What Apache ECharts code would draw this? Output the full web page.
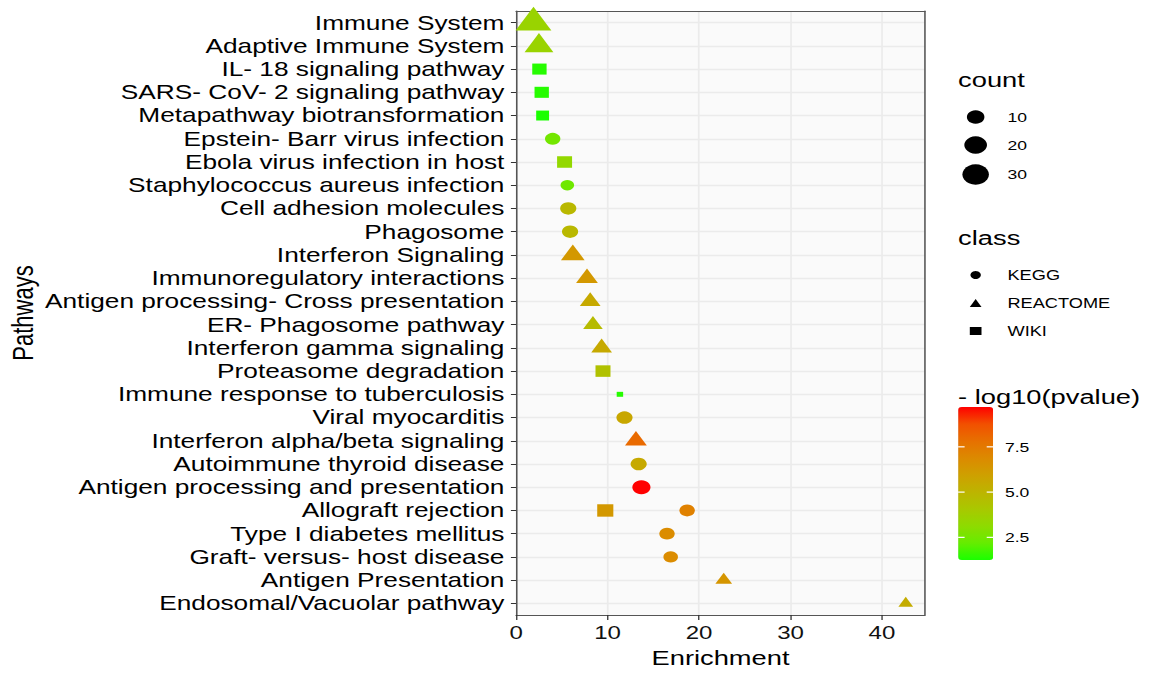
<!DOCTYPE html>
<html>
<head>
<meta charset="utf-8">
<script src="https://cdn.jsdelivr.net/npm/echarts@6/dist/echarts.min.js"></script>
<style>
  html, body { margin: 0; padding: 0; background: #fff; overflow: hidden; }
  /* the source figure is stretched ~1.3x sideways, so draw narrow and widen it */
  #chart { width: 885px; height: 673px; transform: scaleX(1.3); transform-origin: 0 0; }
</style>
</head>
<body>
<div id="chart"></div>
<script>
const pathways = [
  'Immune System', 'Adaptive Immune System', 'IL- 18 signaling pathway',
  'SARS- CoV- 2 signaling pathway', 'Metapathway biotransformation',
  'Epstein- Barr virus infection', 'Ebola virus infection in host',
  'Staphylococcus aureus infection', 'Cell adhesion molecules', 'Phagosome',
  'Interferon Signaling', 'Immunoregulatory interactions',
  'Antigen processing- Cross presentation', 'ER- Phagosome pathway',
  'Interferon gamma signaling', 'Proteasome degradation',
  'Immune response to tuberculosis', 'Viral myocarditis',
  'Interferon alpha/beta signaling', 'Autoimmune thyroid disease',
  'Antigen processing and presentation', 'Allograft rejection',
  'Type I diabetes mellitus', 'Graft- versus- host disease',
  'Antigen Presentation', 'Endosomal/Vacuolar pathway'
];

// one entry per point (Allograft rejection has two)
const pointPathway = [
  'Immune System', 'Adaptive Immune System', 'IL- 18 signaling pathway',
  'SARS- CoV- 2 signaling pathway', 'Metapathway biotransformation',
  'Epstein- Barr virus infection', 'Ebola virus infection in host',
  'Staphylococcus aureus infection', 'Cell adhesion molecules', 'Phagosome',
  'Interferon Signaling', 'Immunoregulatory interactions',
  'Antigen processing- Cross presentation', 'ER- Phagosome pathway',
  'Interferon gamma signaling', 'Proteasome degradation',
  'Immune response to tuberculosis', 'Viral myocarditis',
  'Interferon alpha/beta signaling', 'Autoimmune thyroid disease',
  'Antigen processing and presentation', 'Allograft rejection', 'Allograft rejection',
  'Type I diabetes mellitus', 'Graft- versus- host disease',
  'Antigen Presentation', 'Endosomal/Vacuolar pathway'
];
const enrichment = [1.9, 2.5, 2.55, 2.8, 2.9, 4.0, 5.3, 5.6, 5.7, 5.9, 6.2, 7.75, 8.1, 8.4,
  9.35, 9.5, 11.35, 11.85, 13.1, 13.4, 13.7, 9.75, 18.7, 16.5, 16.9, 22.7, 42.6];
const count = [30, 17, 8, 8, 6, 7, 9, 5, 8, 8, 10, 8, 7, 6, 7, 9, 2, 8, 8, 8, 11, 11, 7, 7, 6, 4, 3];
const logP = [3.5, 3.5, 1.4, 1.4, 1.25, 2.5, 3.3, 2.4, 4.8, 4.8, 6.3, 6.3, 5.5, 4.7, 5.5, 4.4,
  1.4, 5.6, 8.0, 5.5, 9.7, 6.3, 7.2, 6.8, 6.8, 6.4, 5.4];
const pointClass = ['REACTOME', 'REACTOME', 'WIKI', 'WIKI', 'WIKI', 'KEGG', 'WIKI', 'KEGG', 'KEGG',
  'KEGG', 'REACTOME', 'REACTOME', 'REACTOME', 'REACTOME', 'REACTOME', 'WIKI', 'WIKI', 'KEGG',
  'REACTOME', 'KEGG', 'KEGG', 'WIKI', 'KEGG', 'KEGG', 'KEGG', 'REACTOME', 'REACTOME'];

const classes = ['KEGG', 'REACTOME', 'WIKI'];
const xTicks = [0, 10, 20, 30, 40];
const countBreaks = [10, 20, 30];
const colorBreaks = [7.5, 5.0, 2.5];

const FONT = 'Liberation Sans';
const classSymbol = { KEGG: 'circle', REACTOME: 'triangle', WIKI: 'rect' };
const palette = ['#1aff00', '#66ec00', '#8edb00', '#a9c800', '#bdb400', '#cea000',
  '#dc8a00', '#e77000', '#f25000', '#ff0000'];
const pMin = 1.25, pMax = 9.7;

// area-like size scale: diameter grows with sqrt(count)
const sizeOf = (c) => 5.6 + 2.8 * Math.sqrt(Math.max(c - 2, 0));

function symbolFor(cls, c) {
  const d = sizeOf(c);
  if (cls === 'REACTOME') return { symbolSize: [1.347 * d, 1.167 * d], symbolOffset: [0, -0.195 * d] };
  if (cls === 'WIKI') return { symbolSize: [0.886 * d, 0.886 * d] };
  return { symbolSize: [d, d] };
}

const series = classes.map((cls) => ({
  type: 'scatter',
  name: cls,
  symbol: classSymbol[cls],
  itemStyle: { color: '#000', opacity: 1 },
  emphasis: { disabled: true },
  data: pointPathway
    .map((p, i) => i)
    .filter((i) => pointClass[i] === cls)
    .map((i) => Object.assign(
      { value: [enrichment[i], pointPathway[i], count[i], logP[i]] },
      symbolFor(cls, count[i])
    )),
}));

// legends drawn beside the panel
const LX = 737;
const graphics = [];
const title = (text, y) => ({
  type: 'text', x: LX, y: y, z: 100,
  style: { text: text, fontSize: 21, fontFamily: FONT, fill: '#000', verticalAlign: 'middle' },
});
const small = (text, x, y) => ({
  type: 'text', x: x, y: y, z: 100,
  style: { text: text, fontSize: 13.5, fontFamily: FONT, fill: '#000', verticalAlign: 'middle' },
});
graphics.push(title('count', 80));
const countRowY = [117, 145, 174.5];
countBreaks.forEach((v, i) => {
  graphics.push({ type: 'circle', z: 100, shape: { cx: 750.5, cy: countRowY[i], r: sizeOf(v) / 2 }, style: { fill: '#000' } });
  graphics.push(small(String(v), 775, countRowY[i]));
});
graphics.push(title('class', 237.5));
graphics.push(title('- log10(pvalue)', 397));
const barTop = 407, barH = 153, barW = 27;
colorBreaks.forEach((v) => {
  const y = barTop + (pMax - v) / (pMax - pMin) * barH;
  graphics.push(small(v.toFixed(1), 773, y));
  graphics.push({ type: 'line', z: 100, shape: { x1: LX, y1: y, x2: LX + 5, y2: y }, style: { stroke: '#fff', lineWidth: 1.2 } });
  graphics.push({ type: 'line', z: 100, shape: { x1: LX + barW - 5, y1: y, x2: LX + barW, y2: y }, style: { stroke: '#fff', lineWidth: 1.2 } });
});

const border = { show: true, lineStyle: { color: '#555', width: 1.2 } };
const hidden = { show: false };

const chart = echarts.init(document.getElementById('chart'), null, { renderer: 'svg' });
chart.setOption({
  animation: false,
  backgroundColor: '#fff',
  textStyle: { fontFamily: FONT },
  grid: {
    left: 397, top: 11, width: 314.5, height: 606,
    show: true, backgroundColor: '#fafafa', borderWidth: 0,
  },
  xAxis: [
    {
      type: 'value', min: 0, max: 44.7, interval: 5,
      axisLine: Object.assign({ onZero: false }, border),
      axisTick: { show: true, length: 5, customValues: xTicks, lineStyle: { color: '#333' } },
      axisLabel: {
        fontSize: 18.5, color: '#111', margin: 8,
        formatter: (v) => (xTicks.indexOf(v) >= 0 ? String(v) : ''),
      },
      splitLine: { show: true, lineStyle: { color: '#ebebeb', width: 1.3 } },
      name: 'Enrichment', nameLocation: 'middle', nameGap: 32,
      nameTextStyle: { fontSize: 21, color: '#000' },
    },
    {
      type: 'value', position: 'top', min: 0, max: 44.7,
      axisLine: Object.assign({ onZero: false }, border),
      axisTick: hidden, axisLabel: hidden, splitLine: hidden,
    },
  ],
  yAxis: [
    {
      type: 'category', data: pathways, inverse: true,
      axisLine: Object.assign({ onZero: false }, border),
      axisTick: { show: true, alignWithLabel: true, length: 4, lineStyle: { color: '#333' } },
      axisLabel: { interval: 0, fontSize: 20.2, color: '#000', margin: 9 },
      splitLine: { show: true, interval: 0, alignWithLabel: true, lineStyle: { color: '#ebebeb', width: 1.3 } },
      name: 'Pathways', nameLocation: 'middle', nameGap: 368,
      nameTextStyle: { fontSize: 22, color: '#000' },
    },
    {
      type: 'category', data: pathways, inverse: true, position: 'right',
      axisLine: Object.assign({ onZero: false }, border),
      axisTick: hidden, axisLabel: hidden, splitLine: hidden,
    },
  ],
  visualMap: {
    type: 'continuous', min: pMin, max: pMax, dimension: 3, seriesIndex: [0, 1, 2],
    inRange: { color: palette },
    calculable: false, hoverLink: false,
    left: LX, top: barTop, itemWidth: barW, itemHeight: barH, padding: 0,
  },
  legend: {
    orient: 'vertical', left: 746, top: 267, padding: 0,
    itemWidth: 9, itemHeight: 8, itemGap: 12, selectedMode: false,
    textStyle: { fontSize: 14, color: '#000', lineHeight: 16, padding: [0, 0, 0, 15] },
    data: classes.map((c) => ({ name: c, itemStyle: { color: '#000' } })),
  },
  graphic: graphics,
  series: series,
});
</script>
</body>
</html>
